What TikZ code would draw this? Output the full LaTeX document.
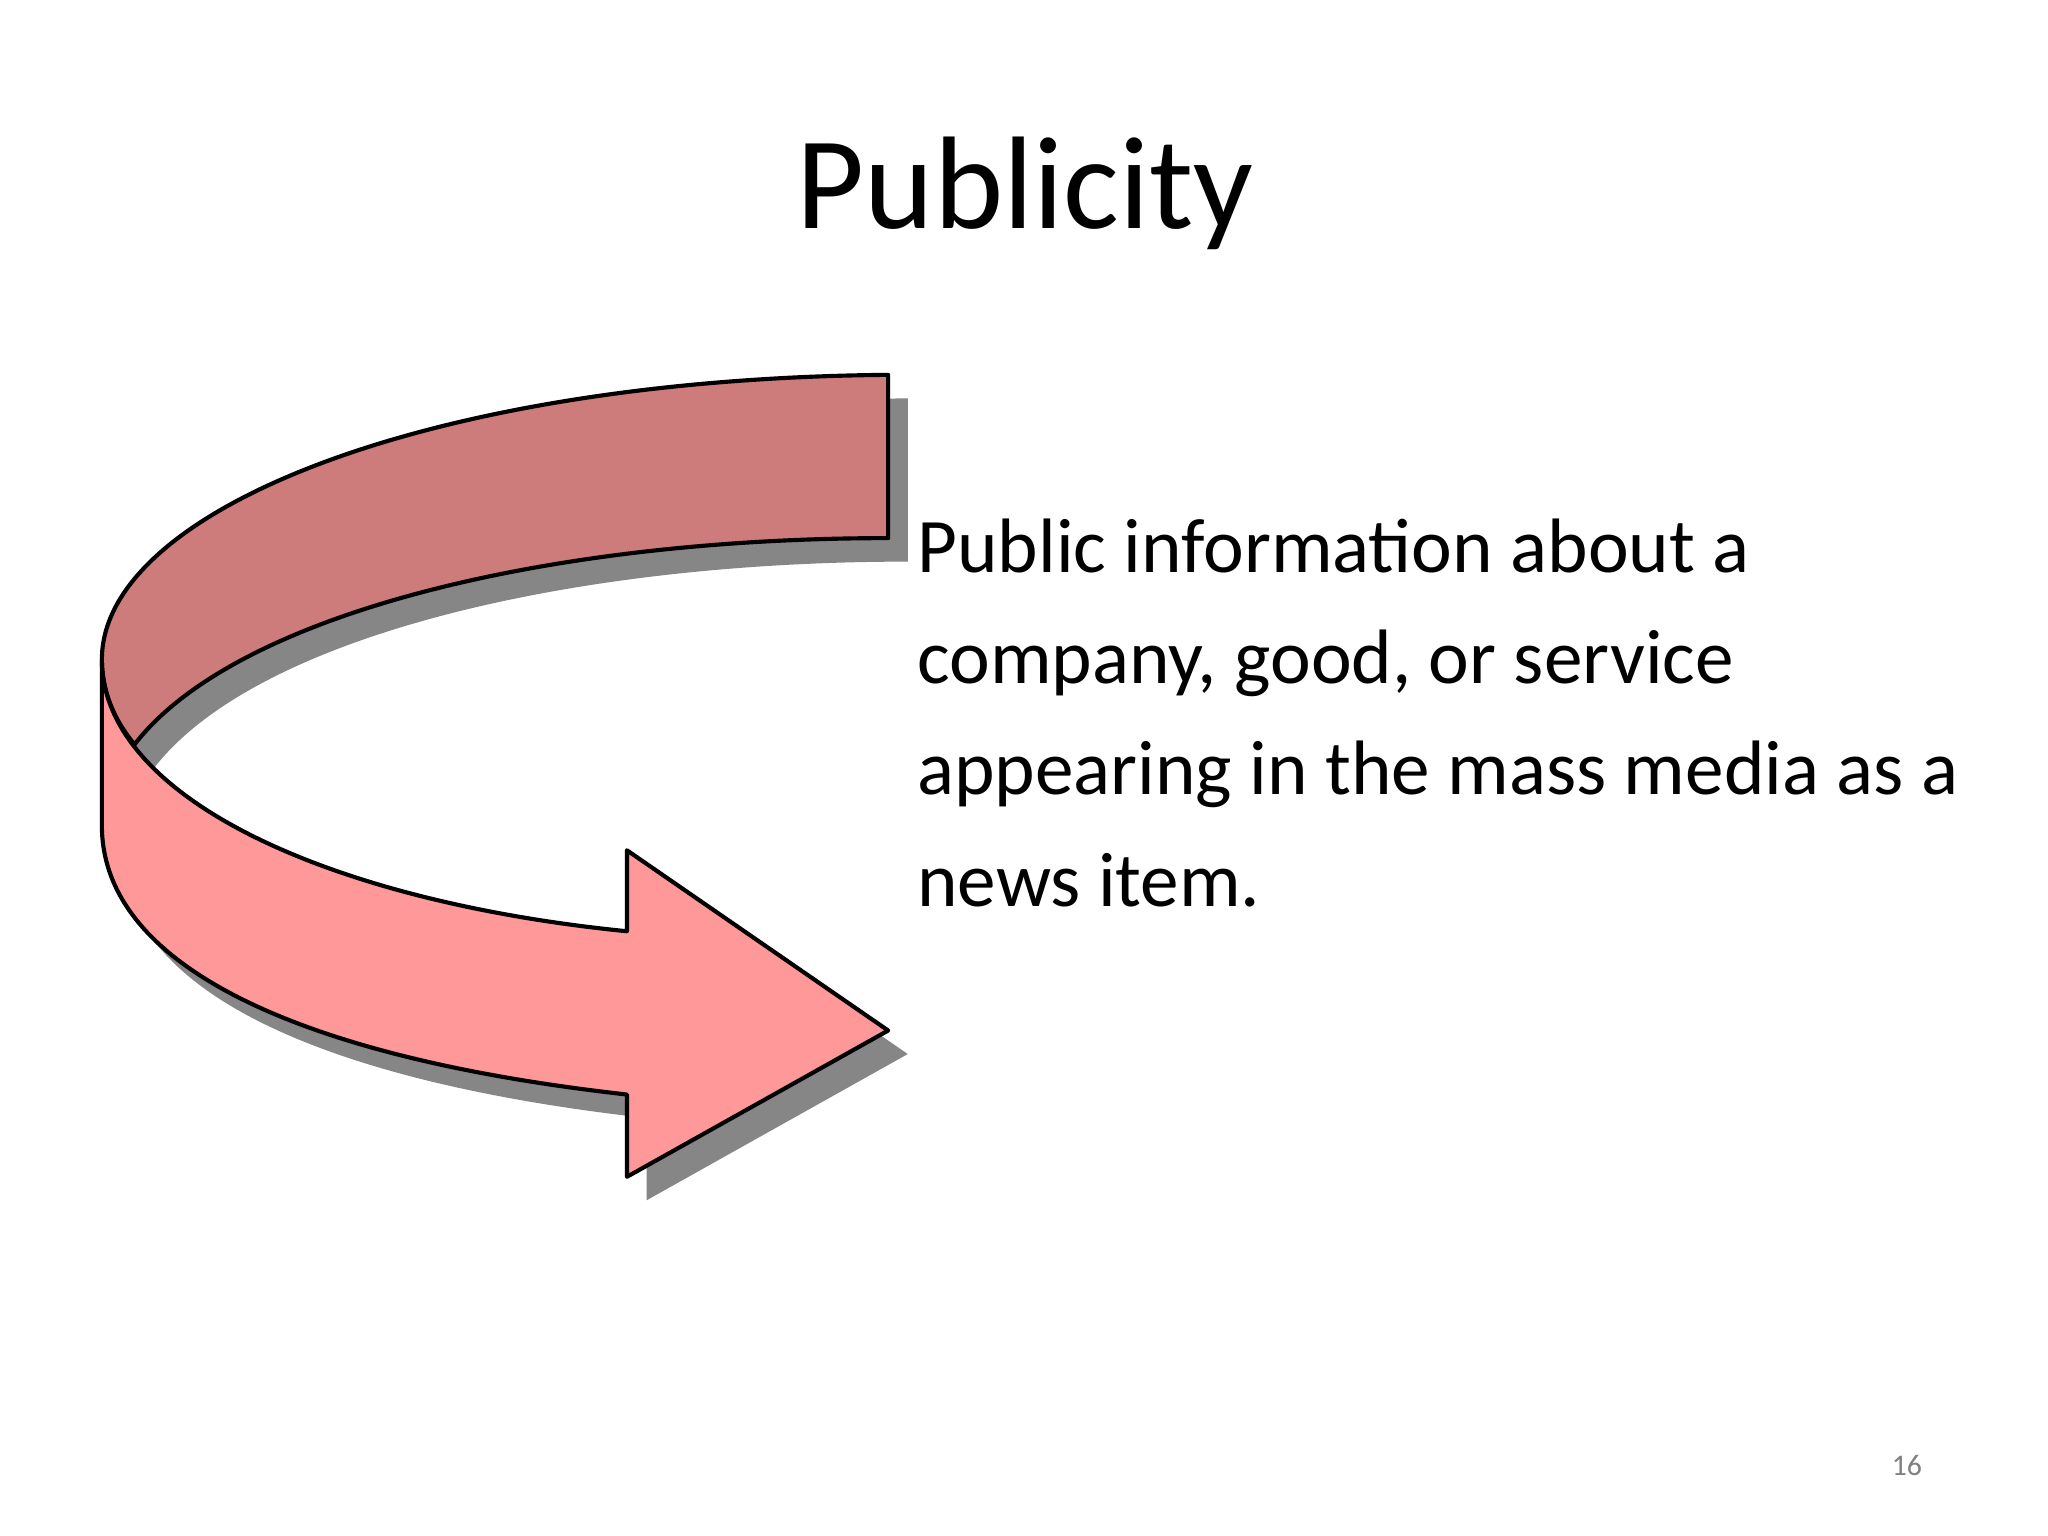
\documentclass[tikz,border=0pt]{standalone}
\usepackage{fontspec}
\setmainfont{Carlito}
\begin{document}
\begin{tikzpicture}[x=0.01cm,y=-0.01cm,
  band/.style={draw=black,line width=0.9pt,line join=round},
  body/.style={anchor=north west,align=left,font=\fontsize{16.8}{24.2}\selectfont}]
\useasboundingbox (0,0) rectangle (1568,1176);
\fill[white] (0,0) rectangle (1568,1176);
% shadow
\begin{scope}[shift={(15,18)}]
\fill[gray!95!black,opacity=0.9] (680,287) .. controls (330,290) and (78,390) .. (78,505)
  -- (78,632) .. controls (78,740) and (230,810) .. (480,838) -- (480,901) -- (680,789)
  -- (480,651) -- (480,713) .. controls (300,690) and (150,640) .. (103,570)
  .. controls (180,470) and (420,412) .. (680,412) -- cycle;
\end{scope}
% back band
\path[band,fill={rgb,255:red,205;green,123;blue,123}] (680,287) .. controls (330,290) and (78,390) .. (78,505)
  .. controls (78,530) and (88,552) .. (103,570)
  .. controls (180,470) and (420,412) .. (680,412) -- cycle;
% front band with head
\path[band,fill={rgb,255:red,255;green,153;blue,153}] (78,505) .. controls (78,610) and (250,690) .. (480,713)
  -- (480,651) -- (680,789) -- (480,901) -- (480,838)
  .. controls (230,810) and (78,740) .. (78,632) -- cycle;
\node (title) at (785,148) {\fontsize{28.7}{34}\selectfont Publicity};
\node[body] (txt) at (690,385) {Public information about a\\company, good, or service\\appearing in the mass media as a\\news item.};
\node[text=gray] (num) at (1460,1122) {\fontsize{6.5}{8}\selectfont 16};
\end{tikzpicture}
\end{document}
